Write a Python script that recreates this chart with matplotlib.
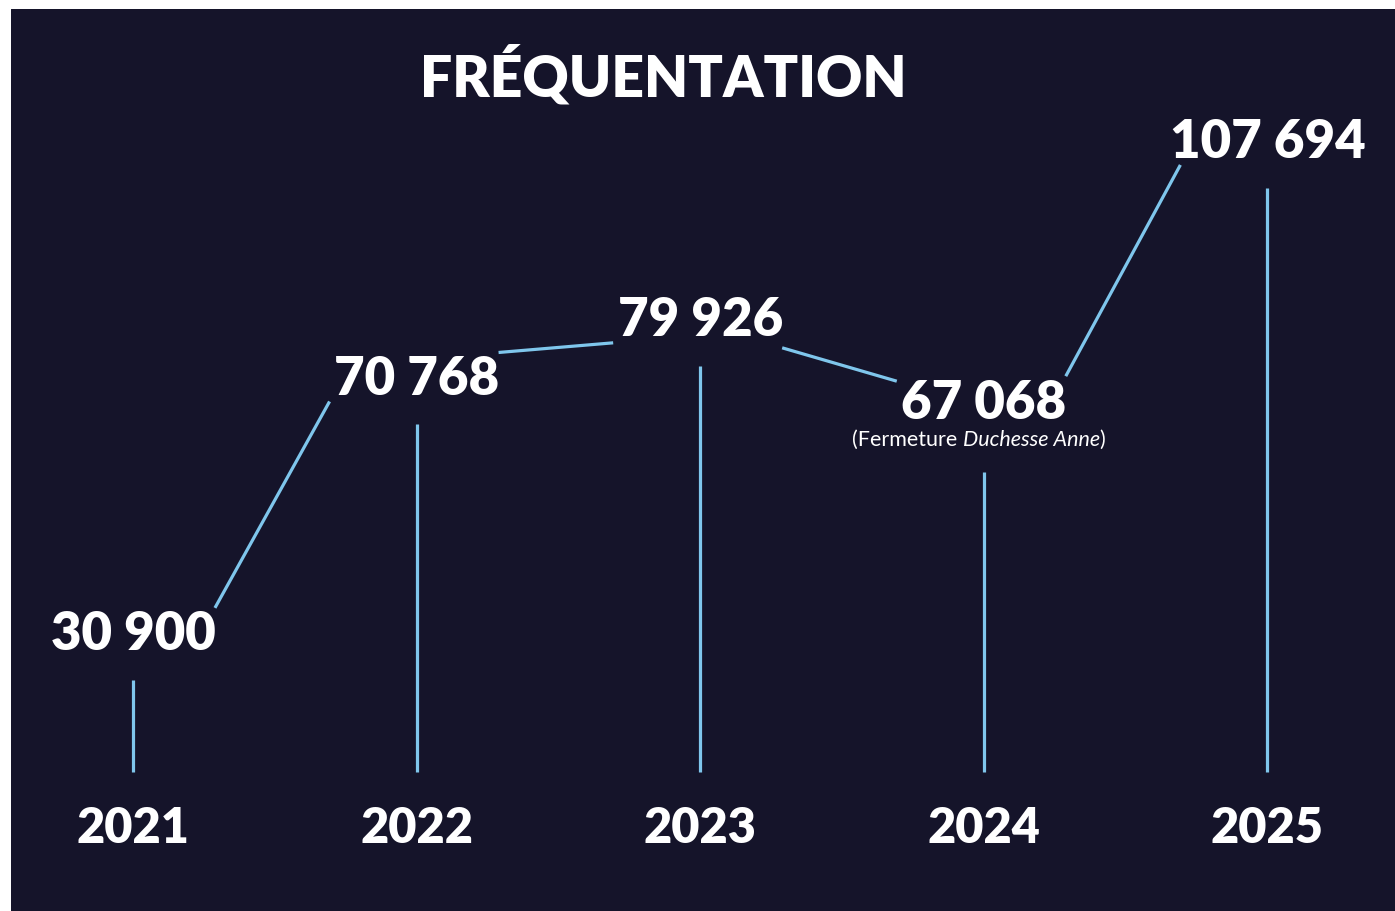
import matplotlib
matplotlib.use("Agg")
import matplotlib.pyplot as plt
from matplotlib.lines import Line2D

years = ["2021", "2022", "2023", "2024", "2025"]
visitors = [30900, 70768, 79926, 67068, 107694]
labels = ["30 900", "70 768", "79 926", "67 068", "107 694"]
# note under 2024, middle part in italics
note_year = "2024"
note_parts = ["(Fermeture ", "Duchesse Anne", ")"]

BG = "#15142a"
BLUE = "#7fc6ec"
FONT = "Lato"

W, H = 1395, 911
fig = plt.figure(figsize=(W / 100, H / 100), dpi=100, facecolor="white")
ax = fig.add_axes([11 / W, 0, 1 - 11 / W, (H - 9) / H])
ax.set_facecolor(BG)
ax.set_axis_off()
ax.add_patch(plt.Rectangle((0, 0), 1, 1, transform=ax.transAxes, color=BG, zorder=0))

xs = list(range(len(years)))
ax.set_xlim(-0.43, 4.45)
ax.set_ylim(-12200, 128600)

fig.text(663 / W, 1 - 75 / H, "FRÉQUENTATION", color="white", fontsize=41,
         fontweight="heavy", family=FONT, ha="center", va="center")

pts = ax.transData.transform(list(zip(xs, visitors)))
base_y = H - 772
renderer = fig.canvas.get_renderer()

for i, (px, py) in enumerate(pts):
    ax.text(xs[i], visitors[i], labels[i], color="white", fontsize=38,
            fontweight="heavy", family=FONT, ha="center", va="center", zorder=3)
    ax.text(xs[i], 0.092, years[i], color="white", fontsize=35, fontweight="heavy",
            family=FONT, ha="center", va="center",
            transform=ax.get_xaxis_transform())
    gap = 45
    if years[i] == note_year:
        gap = 69
        # measure the whole note to centre it, then draw it piece by piece
        probe = fig.text(0, 0, "".join(note_parts), fontsize=15.5, family=FONT)
        width = probe.get_window_extent(renderer).width
        probe.remove()
        x0 = px - width / 2
        for j, part in enumerate(note_parts):
            t = fig.text(x0 / W, (py - 37) / H, part, color="white", fontsize=15.5,
                         family=FONT, style="italic" if j == 1 else "normal",
                         ha="left", va="center")
            x0 = t.get_window_extent(renderer).x1
    fig.add_artist(Line2D([px, px], [base_y, py - gap], color=BLUE, lw=2.3,
                          transform=None, solid_capstyle="butt"))

# connectors between the value labels
for i in range(len(pts) - 1):
    (x1, y1), (x2, y2) = pts[i], pts[i + 1]
    s = 1 if y2 > y1 else -1
    fig.add_artist(Line2D([x1 + 82, x2 - 87], [y1 + 27 * s, y2 - 22 * s],
                          color=BLUE, lw=2.3, transform=None,
                          solid_capstyle="butt"))

fig.savefig("out.png", dpi=100, facecolor="white")
